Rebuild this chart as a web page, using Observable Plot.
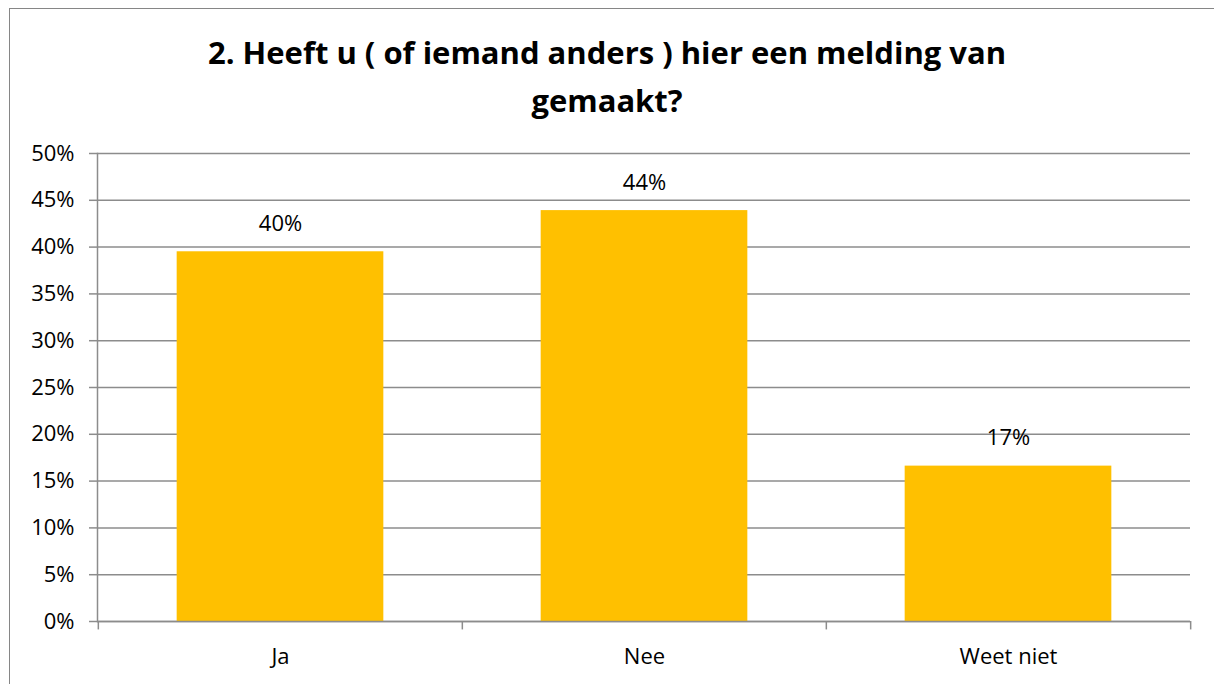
<!DOCTYPE html>
<html>
<head>
<meta charset="utf-8">
<script src="https://cdn.jsdelivr.net/npm/d3@7"></script>
<script src="https://cdn.jsdelivr.net/npm/@observablehq/plot@0.6"></script>
<style>
  html, body { margin: 0; padding: 0; background: #fff; }
  #wrap { position: relative; width: 1214px; height: 684px; overflow: hidden; font-family: "Open Sans", sans-serif; }
  #frame { position: absolute; left: 9px; top: 8px; width: 1230px; height: 700px; border: 1.5px solid #868686; box-sizing: border-box; }
  #title { position: absolute; left: 0; top: 28px; width: 1214px; text-align: center; font-weight: bold; font-size: 31px; line-height: 48px; color: #000; }
  #chart { position: absolute; left: 0; top: 130px; }
</style>
</head>
<body>
<div id="wrap">
  <div id="frame"></div>
  <div id="title">2. Heeft u ( of iemand anders ) hier een melding van<br>gemaakt?</div>
  <div id="chart"></div>
</div>
<script>
const categories = ["Ja", "Nee", "Weet niet"];
const values = [39.5, 43.9, 16.6];
const valueLabels = ["40%", "44%", "17%"];
const yTicks = [0, 5, 10, 15, 20, 25, 30, 35, 40, 45, 50];

const data = categories.map((c, i) => ({cat: c, value: values[i], label: valueLabels[i]}));

const W = 1214, H = 554, mL = 97, mR = 24, mT = 23, mB = 63;
const step = (W - mL - mR) / categories.length;
const barW = 207;
const inset = (step - barW) / 2;
const grid = "#8c8c8c";

const chart = Plot.plot({
  width: W,
  height: H,
  marginLeft: mL,
  marginRight: mR,
  marginTop: mT,
  marginBottom: mB,
  style: {fontFamily: "'Open Sans', sans-serif", fontSize: "22px", color: "#000", background: "transparent", overflow: "visible"},
  x: {domain: categories, padding: 0, label: null},
  y: {domain: [0, 50], label: null},
  marks: [
    Plot.ruleY(yTicks, {stroke: grid, strokeWidth: 1.5, strokeOpacity: 1}),
    Plot.barY(data, {x: "cat", y: "value", fill: "#FFC000", insetLeft: inset, insetRight: inset}),
    Plot.ruleY([0], {stroke: grid, strokeWidth: 1.5}),
    Plot.frame({anchor: "left", stroke: grid, strokeWidth: 1.5}),
    Plot.ruleX(categories, {x: d => d, dx: -step / 2, y1: 0, y2: -0.9, stroke: grid, strokeWidth: 1.5, clip: false}),
    Plot.ruleX([categories[categories.length - 1]], {x: d => d, dx: step / 2, y1: 0, y2: -0.9, stroke: grid, strokeWidth: 1.5}),
    Plot.axisY({ticks: yTicks, tickFormat: d => d + "%", tickSize: 8, tickPadding: 15, stroke: grid, strokeWidth: 1.5, fontSize: 22, label: null}),
    Plot.axisX({tickSize: 0, tickPadding: 27, fontSize: 22, label: null}),
    Plot.text(data, {x: "cat", y: "value", text: "label", dy: -28, fontSize: 22, fill: "#000"})
  ]
});
document.getElementById("chart").appendChild(chart);
</script>
</body>
</html>
